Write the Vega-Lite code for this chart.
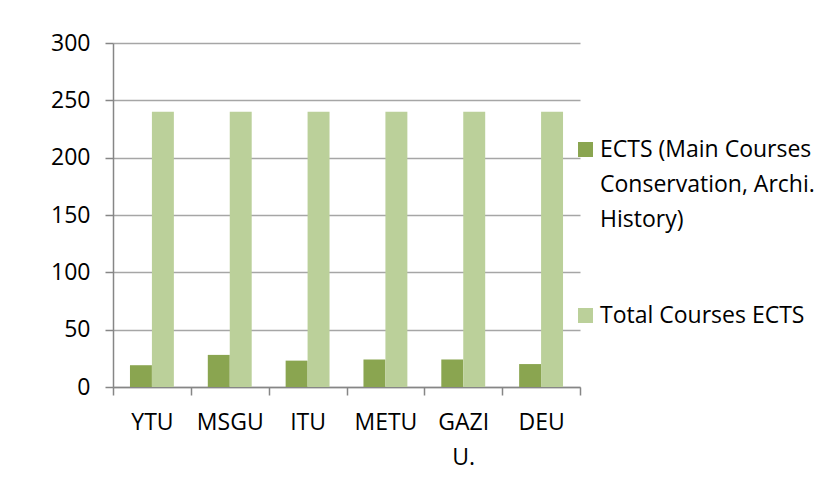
{
  "$schema": "https://vega.github.io/schema/vega-lite/v6.json",
  "autosize": {"type": "none"},
  "padding": {"left": 113, "top": 43, "right": 245, "bottom": 103},
  "width": 467,
  "height": 344,
  "background": "white",
  "config": {
    "view": {"stroke": null},
    "font": "Open Sans"
  },
  "data": {
    "values": [
      {"university": "YTU", "series": "ECTS (Main Courses Conservation, Archi. History)", "ects": 19},
      {"university": "YTU", "series": "Total Courses ECTS", "ects": 240},
      {"university": "MSGU", "series": "ECTS (Main Courses Conservation, Archi. History)", "ects": 28},
      {"university": "MSGU", "series": "Total Courses ECTS", "ects": 240},
      {"university": "ITU", "series": "ECTS (Main Courses Conservation, Archi. History)", "ects": 23},
      {"university": "ITU", "series": "Total Courses ECTS", "ects": 240},
      {"university": "METU", "series": "ECTS (Main Courses Conservation, Archi. History)", "ects": 24},
      {"university": "METU", "series": "Total Courses ECTS", "ects": 240},
      {"university": "GAZI U.", "series": "ECTS (Main Courses Conservation, Archi. History)", "ects": 24},
      {"university": "GAZI U.", "series": "Total Courses ECTS", "ects": 240},
      {"university": "DEU", "series": "ECTS (Main Courses Conservation, Archi. History)", "ects": 20},
      {"university": "DEU", "series": "Total Courses ECTS", "ects": 240}
    ]
  },
  "mark": {"type": "bar"},
  "encoding": {
    "x": {
      "field": "university",
      "type": "nominal",
      "sort": ["YTU", "MSGU", "ITU", "METU", "GAZI U.", "DEU"],
      "scale": {"paddingInner": 0, "paddingOuter": 0},
      "axis": {
        "title": null,
        "labelAngle": 0,
        "tickBand": "extent",
        "domainColor": "#868686",
        "domainWidth": 1.5,
        "tickColor": "#868686",
        "tickWidth": 1.5,
        "tickSize": 8,
        "labelFontSize": 23,
        "labelColor": "#000000",
        "labelPadding": 16,
        "labelLineHeight": 35,
        "labelExpr": "datum.value == 'GAZI U.' ? ['GAZI', 'U.'] : datum.value"
      }
    },
    "xOffset": {
      "field": "series",
      "type": "nominal",
      "sort": ["ECTS (Main Courses Conservation, Archi. History)", "Total Courses ECTS"],
      "scale": {"paddingInner": 0, "paddingOuter": 0.773}
    },
    "y": {
      "field": "ects",
      "type": "quantitative",
      "scale": {"domain": [0, 300], "nice": false},
      "axis": {
        "title": null,
        "values": [0, 50, 100, 150, 200, 250, 300],
        "grid": true,
        "gridColor": "#A6A6A6",
        "gridWidth": 1.5,
        "domainColor": "#868686",
        "domainWidth": 1.5,
        "tickColor": "#868686",
        "tickWidth": 1.5,
        "tickSize": 8,
        "labelFontSize": 23,
        "labelColor": "#000000",
        "labelPadding": 15
      }
    },
    "color": {
      "field": "series",
      "type": "nominal",
      "scale": {
        "domain": ["ECTS (Main Courses Conservation, Archi. History)", "Total Courses ECTS"],
        "range": ["#8AA550", "#BBD09A"]
      },
      "legend": {
        "title": null,
        "orient": "none",
        "legendX": 461,
        "legendY": 95,
        "symbolType": "square",
        "symbolSize": 225,
        "symbolStrokeWidth": 0,
        "labelFontSize": 23,
        "labelColor": "#000000",
        "labelOffset": 3,
        "labelLimit": 300,
        "rowPadding": 72,
        "labelExpr": "datum.label == 'Total Courses ECTS' ? datum.label : ['ECTS (Main Courses', 'Conservation, Archi.', 'History)']",
        "encode": {"labels": {"update": {"lineHeight": {"value": 35}}}}
      }
    }
  }
}
